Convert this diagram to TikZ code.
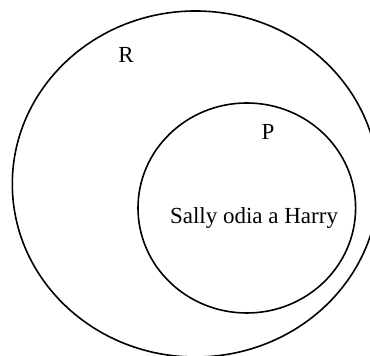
\documentclass[tikz,border=0pt]{standalone}
\usepackage{fontspec}
\setmainfont{Liberation Serif}
\usetikzlibrary{positioning}

\begin{document}
\begin{tikzpicture}[x=0.5pt, y=-0.5pt, set/.style={draw, line width=0.8pt}, lbl/.style={font=\fontsize{11.5}{14}\selectfont, inner sep=0pt}]
  \useasboundingbox (0,0) rectangle (370,356);
  \clip (0,0) rectangle (370,356);
  % sets
  \draw[set] (195.5,184) ellipse [x radius=183.2, y radius=173];
  \draw[set] (246.8,208) ellipse [x radius=108.8, y radius=105];
  % labels
  \node[lbl] (setR) at (126,55) {R};
  \node[lbl] (setP) at (268,132) {P};
  \node[lbl] (fact) at (254,218) {Sally odia a Harry};
\end{tikzpicture}
\end{document}
